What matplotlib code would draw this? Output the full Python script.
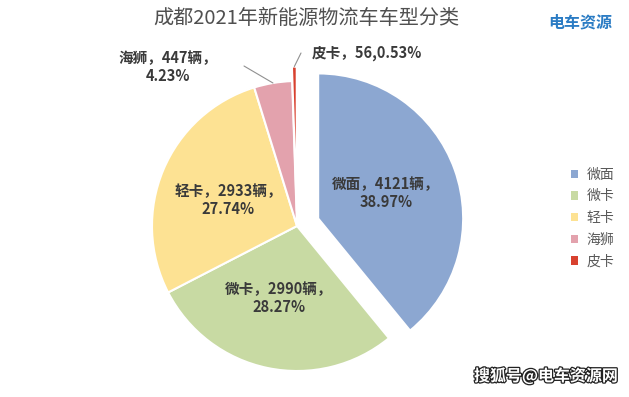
import numpy as np
import matplotlib
matplotlib.use('Agg')
import matplotlib.pyplot as plt
import matplotlib.patheffects as pe

plt.rcParams['font.family'] = ['Noto Sans CJK SC', 'DejaVu Sans']

# 数据
categorias = ['微面', '微卡', '轻卡', '海狮', '皮卡']
vendas = [4121, 2990, 2933, 447, 56]
percentuais = ['38.97%', '28.27%', '27.74%', '4.23%', '0.53%']
cores = ['#8ca7d1', '#c8daa3', '#fde293', '#e3a2ad', '#d8412f']
explodir = [0.155, 0, 0, 0, 0.1]

W, H = 629, 397
fig = plt.figure(figsize=(W / 100, H / 100), dpi=100)
ax = fig.add_axes([0, 0, 1, 1])

cx, cy, r = 297, H - 226, 145
# explode do pie é em unidades de dados, por isso * r
fatias, _ = ax.pie(vendas, colors=cores, startangle=90, counterclock=False,
                   explode=[e * r for e in explodir], center=(cx, cy), radius=r,
                   wedgeprops={'edgecolor': 'white', 'linewidth': 1.5})
# pie mexe nos limites, então define depois
ax.set_xlim(0, W)
ax.set_ylim(0, H)
ax.set_aspect('equal')
ax.axis('off')

estilo = dict(fontsize=10.5, fontweight='bold', color='#3a3a3a',
              ha='center', va='center', linespacing=1.1)

# rótulos internos (posição em pixels da imagem)
internos = {0: (386, 193), 1: (279, 298), 2: (228, 200)}
for i, (px, py) in internos.items():
    txt = f'{categorias[i]}，{vendas[i]}辆，\n{percentuais[i]}'
    ax.text(px, H - py, txt, **estilo)

# rótulos externos com linha guia
def ponto_borda(w):
    ang = np.deg2rad((w.theta1 + w.theta2) / 2)
    x0, y0 = w.center
    return x0 + w.r * np.cos(ang), y0 + w.r * np.sin(ang)

linha = dict(arrowstyle='-', color='#909090', lw=0.8, shrinkA=0, shrinkB=0)
ax.text(168, H - 67, f'{categorias[3]}，{vendas[3]}辆，\n{percentuais[3]}', **estilo)
ax.annotate('', xy=ponto_borda(fatias[3]), xytext=(244, H - 66), arrowprops=linha)
ax.text(367, H - 53, f'{categorias[4]}，{vendas[4]},{percentuais[4]}', **estilo)
ax.annotate('', xy=ponto_borda(fatias[4]), xytext=(301, H - 53), arrowprops=linha)

# título e logo
fig.text(306 / W, 1 - 18 / H, '成都2021年新能源物流车车型分类', fontsize=14.5,
         color='#505050', ha='center', va='center')
fig.text(580 / W, 1 - 22 / H, '电车资源', fontsize=11.5, fontweight='bold',
         color='#2b7cc4', ha='center', va='center')

# legenda
leg = ax.legend(fatias, categorias, loc='center left',
                bbox_to_anchor=(558 / W, 1 - 218 / H), frameon=False,
                fontsize=10, handlelength=0.55, handleheight=0.55,
                handletextpad=0.6, labelspacing=0.55)
for t in leg.get_texts():
    t.set_color('#595959')
for h, c in zip(leg.legend_handles, cores):
    h.set_edgecolor(c)
    h.set_linewidth(0)

# marca d'água
fig.text(546 / W, 1 - 376 / H, '搜狐号@电车资源网', fontsize=11.5, fontweight='bold',
         color='white', ha='center', va='center',
         path_effects=[pe.withStroke(linewidth=1.8, foreground='#222222')])

fig.savefig('out.png', dpi=100)
